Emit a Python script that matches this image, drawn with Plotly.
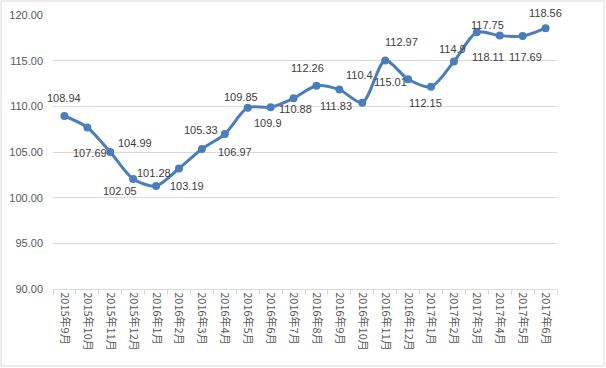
import plotly.graph_objects as go

months = ["2015年9月", "2015年10月", "2015年11月", "2015年12月", "2016年1月", "2016年2月",
          "2016年3月", "2016年4月", "2016年5月", "2016年6月", "2016年7月", "2016年8月",
          "2016年9月", "2016年10月", "2016年11月", "2016年12月", "2017年1月", "2017年2月",
          "2017年3月", "2017年4月", "2017年5月", "2017年6月"]
values = [108.94, 107.69, 104.99, 102.05, 101.28, 103.19, 105.33, 106.97, 109.85, 109.9,
          110.88, 112.26, 111.83, 110.4, 115.01, 112.97, 112.15, 114.9, 118.11, 117.75,
          117.69, 118.56]
labels = ["108.94", "107.69", "104.99", "102.05", "101.28", "103.19", "105.33", "106.97",
          "109.85", "109.9", "110.88", "112.26", "111.83", "110.4", "115.01", "112.97",
          "112.15", "114.9", "118.11", "117.75", "117.69", "118.56"]
y_ticks = [90, 95, 100, 105, 110, 115, 120]

# label offsets in pixels (dx, dy up)
label_offsets = [(0, 18), (3, -26), (25, 9), (-13, -12), (-2, 13), (8, -17), (-1, 19),
                 (10, -18), (-7, 11), (-3, -16), (2, -11), (-9, 18), (-3, -16), (-3, 28),
                 (5, -21), (-7, 37), (-6, -16), (-1, 13), (11, -25), (-12, 11), (3, -21),
                 (0, 15)]

W, H = 606, 368
ML, MR, MT, MB = 53, 49, 15, 79
PW, PH = W - ML - MR, H - MT - MB

fig = go.Figure()
fig.add_trace(go.Scatter(
    x=months, y=values, mode="lines+markers",
    line=dict(color="#4a7ebb", width=3, shape="spline", smoothing=0.8),
    marker=dict(color="#4a7ebb", size=8),
    hoverinfo="skip", showlegend=False,
))

for m, v, t, (dx, dy) in zip(months, values, labels, label_offsets):
    fig.add_annotation(x=m, y=v, text=t, showarrow=False, xshift=dx, yshift=dy,
                       font=dict(family="Liberation Sans, Arial", size=11, color="#404040"))

# chart border
fig.add_shape(type="rect", xref="paper", yref="paper",
              x0=(1 - ML) / PW, x1=(W - 2 - ML) / PW,
              y0=-(H - 2 - (MT + PH)) / PH, y1=(MT + PH - 1) / PH,
              line=dict(color="#d9d9d9", width=1), fillcolor="rgba(0,0,0,0)", layer="below")

fig.update_layout(
    width=W, height=H,
    margin=dict(l=ML, r=MR, t=MT, b=MB, autoexpand=False),
    paper_bgcolor="white", plot_bgcolor="white",
    xaxis=dict(
        type="category", tickangle=90, tickson="boundaries", automargin=False,
        ticks="outside", ticklen=5, tickcolor="#d9d9d9",
        showline=True, linecolor="#d9d9d9", linewidth=1,
        showgrid=False, range=[-0.5, len(months) - 0.5],
        tickfont=dict(family="Noto Sans CJK SC", size=11, color="#595959"),
    ),
    yaxis=dict(
        range=[90, 120], tickvals=y_ticks, tickformat=".2f", automargin=False,
        showgrid=True, gridcolor="#d9d9d9", gridwidth=1,
        zeroline=False, showline=False, ticks="", ticklabelstandoff=9,
        tickfont=dict(family="Liberation Sans, Arial", size=11, color="#595959"),
    ),
)

fig.write_html("out.html", config={"displayModeBar": False, "staticPlot": True},
               post_script="document.body.style.margin='0';document.body.style.overflow='hidden';")
